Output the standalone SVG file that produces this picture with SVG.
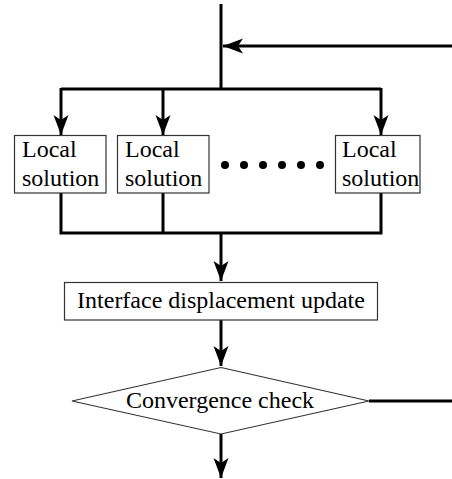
<svg xmlns="http://www.w3.org/2000/svg" width="452" height="479" viewBox="0 0 452 479">
<style>
.c{fill:none;stroke:#000;stroke-width:3}
.b{fill:#fff;stroke:#333;stroke-width:1.2}
.t{font-family:"Liberation Serif",serif;font-size:24px;fill:#000}
</style>
<defs>
<marker id="ah" markerUnits="userSpaceOnUse" viewBox="-21 -8 22 16" markerWidth="22" markerHeight="16" refX="0" refY="0" orient="auto">
<path d="M0,0 L-20,-7.5 L-15,0 L-20,7.5 Z" fill="#000"/>
</marker>
</defs>
<rect width="452" height="479" fill="#fff"/>
<g id="connectors">
<path class="c" d="M221,4 V89"/>
<path class="c" d="M452,46 H223" marker-end="url(#ah)"/>
<path class="c" d="M61,89 H381"/>
<path class="c" d="M61,88 V135" marker-end="url(#ah)"/>
<path class="c" d="M163,88 V135" marker-end="url(#ah)"/>
<path class="c" d="M381,88 V135" marker-end="url(#ah)"/>
<path class="c" d="M61,193 V233 H381 V193"/>
<path class="c" d="M163,193 V233"/>
<path class="c" d="M221,233 V281" marker-end="url(#ah)"/>
<path class="c" d="M221,320 V366" marker-end="url(#ah)"/>
<path class="c" d="M369,401 H452"/>
<path class="c" d="M221,434 V478" marker-end="url(#ah)"/>
</g>
<g id="local1">
<rect class="b" x="14.5" y="135.5" width="91.5" height="57.5"/>
<text class="t" x="22" y="157">Local</text>
<text class="t" x="22" y="186">solution</text>
</g>
<g id="local2">
<rect class="b" x="117.5" y="135.5" width="91.5" height="57.5"/>
<text class="t" x="125" y="157">Local</text>
<text class="t" x="125" y="186">solution</text>
</g>
<g id="dots">
<circle cx="225" cy="165" r="4"/>
<circle cx="244" cy="165" r="4"/>
<circle cx="263" cy="165" r="4"/>
<circle cx="282" cy="165" r="4"/>
<circle cx="301" cy="165" r="4"/>
<circle cx="320" cy="165" r="4"/>
</g>
<g id="local3">
<rect class="b" x="335.5" y="135.5" width="84.5" height="57.5"/>
<text class="t" x="342" y="157">Local</text>
<text class="t" x="342" y="186">solution</text>
</g>
<g id="update">
<rect class="b" x="64.5" y="282.5" width="313" height="37.5"/>
<text class="t" x="221" y="308" text-anchor="middle">Interface displacement update</text>
</g>
<g id="check">
<polygon class="b" points="221,367.5 369,401 221,434 72,401"/>
<text class="t" x="220" y="408" text-anchor="middle">Convergence check</text>
</g>
</svg>
